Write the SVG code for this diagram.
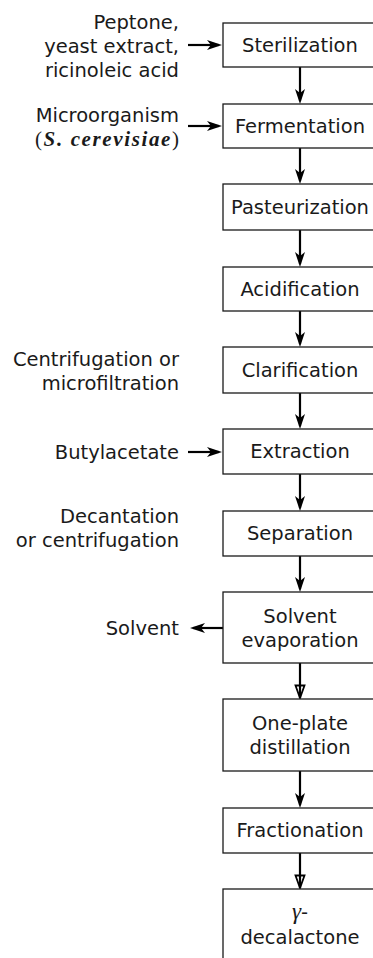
<svg xmlns="http://www.w3.org/2000/svg" width="373" height="958" viewBox="0 0 373 958">
<style>
.box{fill:#fff;stroke:#1a1a1a;stroke-width:1.3}
.lbl{font-family:"DejaVu Sans",sans-serif;font-size:19.5px;fill:#1a1a1a}
.c{text-anchor:middle}
.r{text-anchor:end}
.conn{stroke:#000;stroke-width:2.2;fill:none}
.it{font-family:"Liberation Serif",serif;font-style:italic;font-weight:bold}
</style>
<defs>
<marker id="ah" markerUnits="userSpaceOnUse" markerWidth="16" markerHeight="12" refX="12" refY="6" orient="auto">
<path d="M0,1 L15,6 L0,11 L4,6 z" fill="#000"/>
</marker>
<marker id="ao" markerUnits="userSpaceOnUse" markerWidth="16" markerHeight="12" refX="14" refY="6" orient="auto">
<path d="M1.5,1.5 L14,6 L1.5,10.5 z" fill="none" stroke="#000" stroke-width="1.8" stroke-linejoin="miter"/>
</marker>
</defs>
<rect width="373" height="958" fill="#fff"/>

<g id="connectors">
<line class="conn" x1="188" y1="45" x2="219" y2="45" marker-end="url(#ah)"/>
<line class="conn" x1="188" y1="126" x2="219" y2="126" marker-end="url(#ah)"/>
<line class="conn" x1="188" y1="452" x2="219" y2="452" marker-end="url(#ah)"/>
<line class="conn" x1="223" y1="628" x2="193" y2="628" marker-end="url(#ah)"/>
<line class="conn" x1="300" y1="67" x2="300" y2="101" marker-end="url(#ah)"/>
<line class="conn" x1="300" y1="148" x2="300" y2="181" marker-end="url(#ah)"/>
<line class="conn" x1="300" y1="230" x2="300" y2="264" marker-end="url(#ah)"/>
<line class="conn" x1="300" y1="311" x2="300" y2="344" marker-end="url(#ah)"/>
<line class="conn" x1="300" y1="393" x2="300" y2="426" marker-end="url(#ah)"/>
<line class="conn" x1="300" y1="474" x2="300" y2="508" marker-end="url(#ah)"/>
<line class="conn" x1="300" y1="556" x2="300" y2="589" marker-end="url(#ah)"/>
<line class="conn" x1="300" y1="663" x2="300" y2="698" marker-end="url(#ao)"/>
<line class="conn" x1="300" y1="771" x2="300" y2="805" marker-end="url(#ah)"/>
<line class="conn" x1="300" y1="853" x2="300" y2="888" marker-end="url(#ao)"/>
</g>

<g id="in-sterilization">
<text class="lbl r" x="179" y="29">Peptone,</text>
<text class="lbl r" x="179" y="53">yeast extract,</text>
<text class="lbl r" x="179" y="77">ricinoleic acid</text>
</g>
<g id="in-microorganism">
<text class="lbl r" x="179" y="122">Microorganism</text>
<text class="r" x="179" y="146" font-family="Liberation Serif, serif" font-size="21" fill="#1a1a1a" textLength="144" lengthAdjust="spacing">(<tspan class="it">S. cerevisiae</tspan>)</text>
</g>
<g id="note-clarification">
<text class="lbl r" x="179" y="366">Centrifugation or</text>
<text class="lbl r" x="179" y="390">microfiltration</text>
</g>
<g id="in-butylacetate">
<text class="lbl r" x="179" y="459">Butylacetate</text>
</g>
<g id="note-separation">
<text class="lbl r" x="179" y="523">Decantation</text>
<text class="lbl r" x="179" y="547">or centrifugation</text>
</g>
<g id="out-solvent">
<text class="lbl r" x="179" y="635">Solvent</text>
</g>

<g id="sterilization">
<rect class="box" x="223" y="23" width="154" height="44"/>
<text class="lbl c" x="300" y="52">Sterilization</text>
</g>
<g id="fermentation">
<rect class="box" x="223" y="104" width="154" height="44"/>
<text class="lbl c" x="300" y="133">Fermentation</text>
</g>
<g id="pasteurization">
<rect class="box" x="223" y="184" width="154" height="46"/>
<text class="lbl c" x="300" y="214">Pasteurization</text>
</g>
<g id="acidification">
<rect class="box" x="223" y="267" width="154" height="44"/>
<text class="lbl c" x="300" y="296">Acidification</text>
</g>
<g id="clarification">
<rect class="box" x="223" y="347" width="154" height="46"/>
<text class="lbl c" x="300" y="377">Clarification</text>
</g>
<g id="extraction">
<rect class="box" x="223" y="429" width="154" height="45"/>
<text class="lbl c" x="300" y="458">Extraction</text>
</g>
<g id="separation">
<rect class="box" x="223" y="511" width="154" height="45"/>
<text class="lbl c" x="300" y="540">Separation</text>
</g>
<g id="solvent-evaporation">
<rect class="box" x="223" y="592" width="154" height="71"/>
<text class="lbl c" x="300" y="623">Solvent</text>
<text class="lbl c" x="300" y="647">evaporation</text>
</g>
<g id="one-plate-distillation">
<rect class="box" x="223" y="699" width="154" height="72"/>
<text class="lbl c" x="300" y="730">One-plate</text>
<text class="lbl c" x="300" y="754">distillation</text>
</g>
<g id="fractionation">
<rect class="box" x="223" y="808" width="154" height="45"/>
<text class="lbl c" x="300" y="837">Fractionation</text>
</g>
<g id="decalactone">
<rect class="box" x="223" y="889" width="154" height="90"/>
<text class="lbl c" x="300" y="919"><tspan font-family="Liberation Serif, serif" font-style="italic" font-size="23">γ</tspan>-</text>
<text class="lbl c" x="300" y="944">decalactone</text>
</g>
</svg>
